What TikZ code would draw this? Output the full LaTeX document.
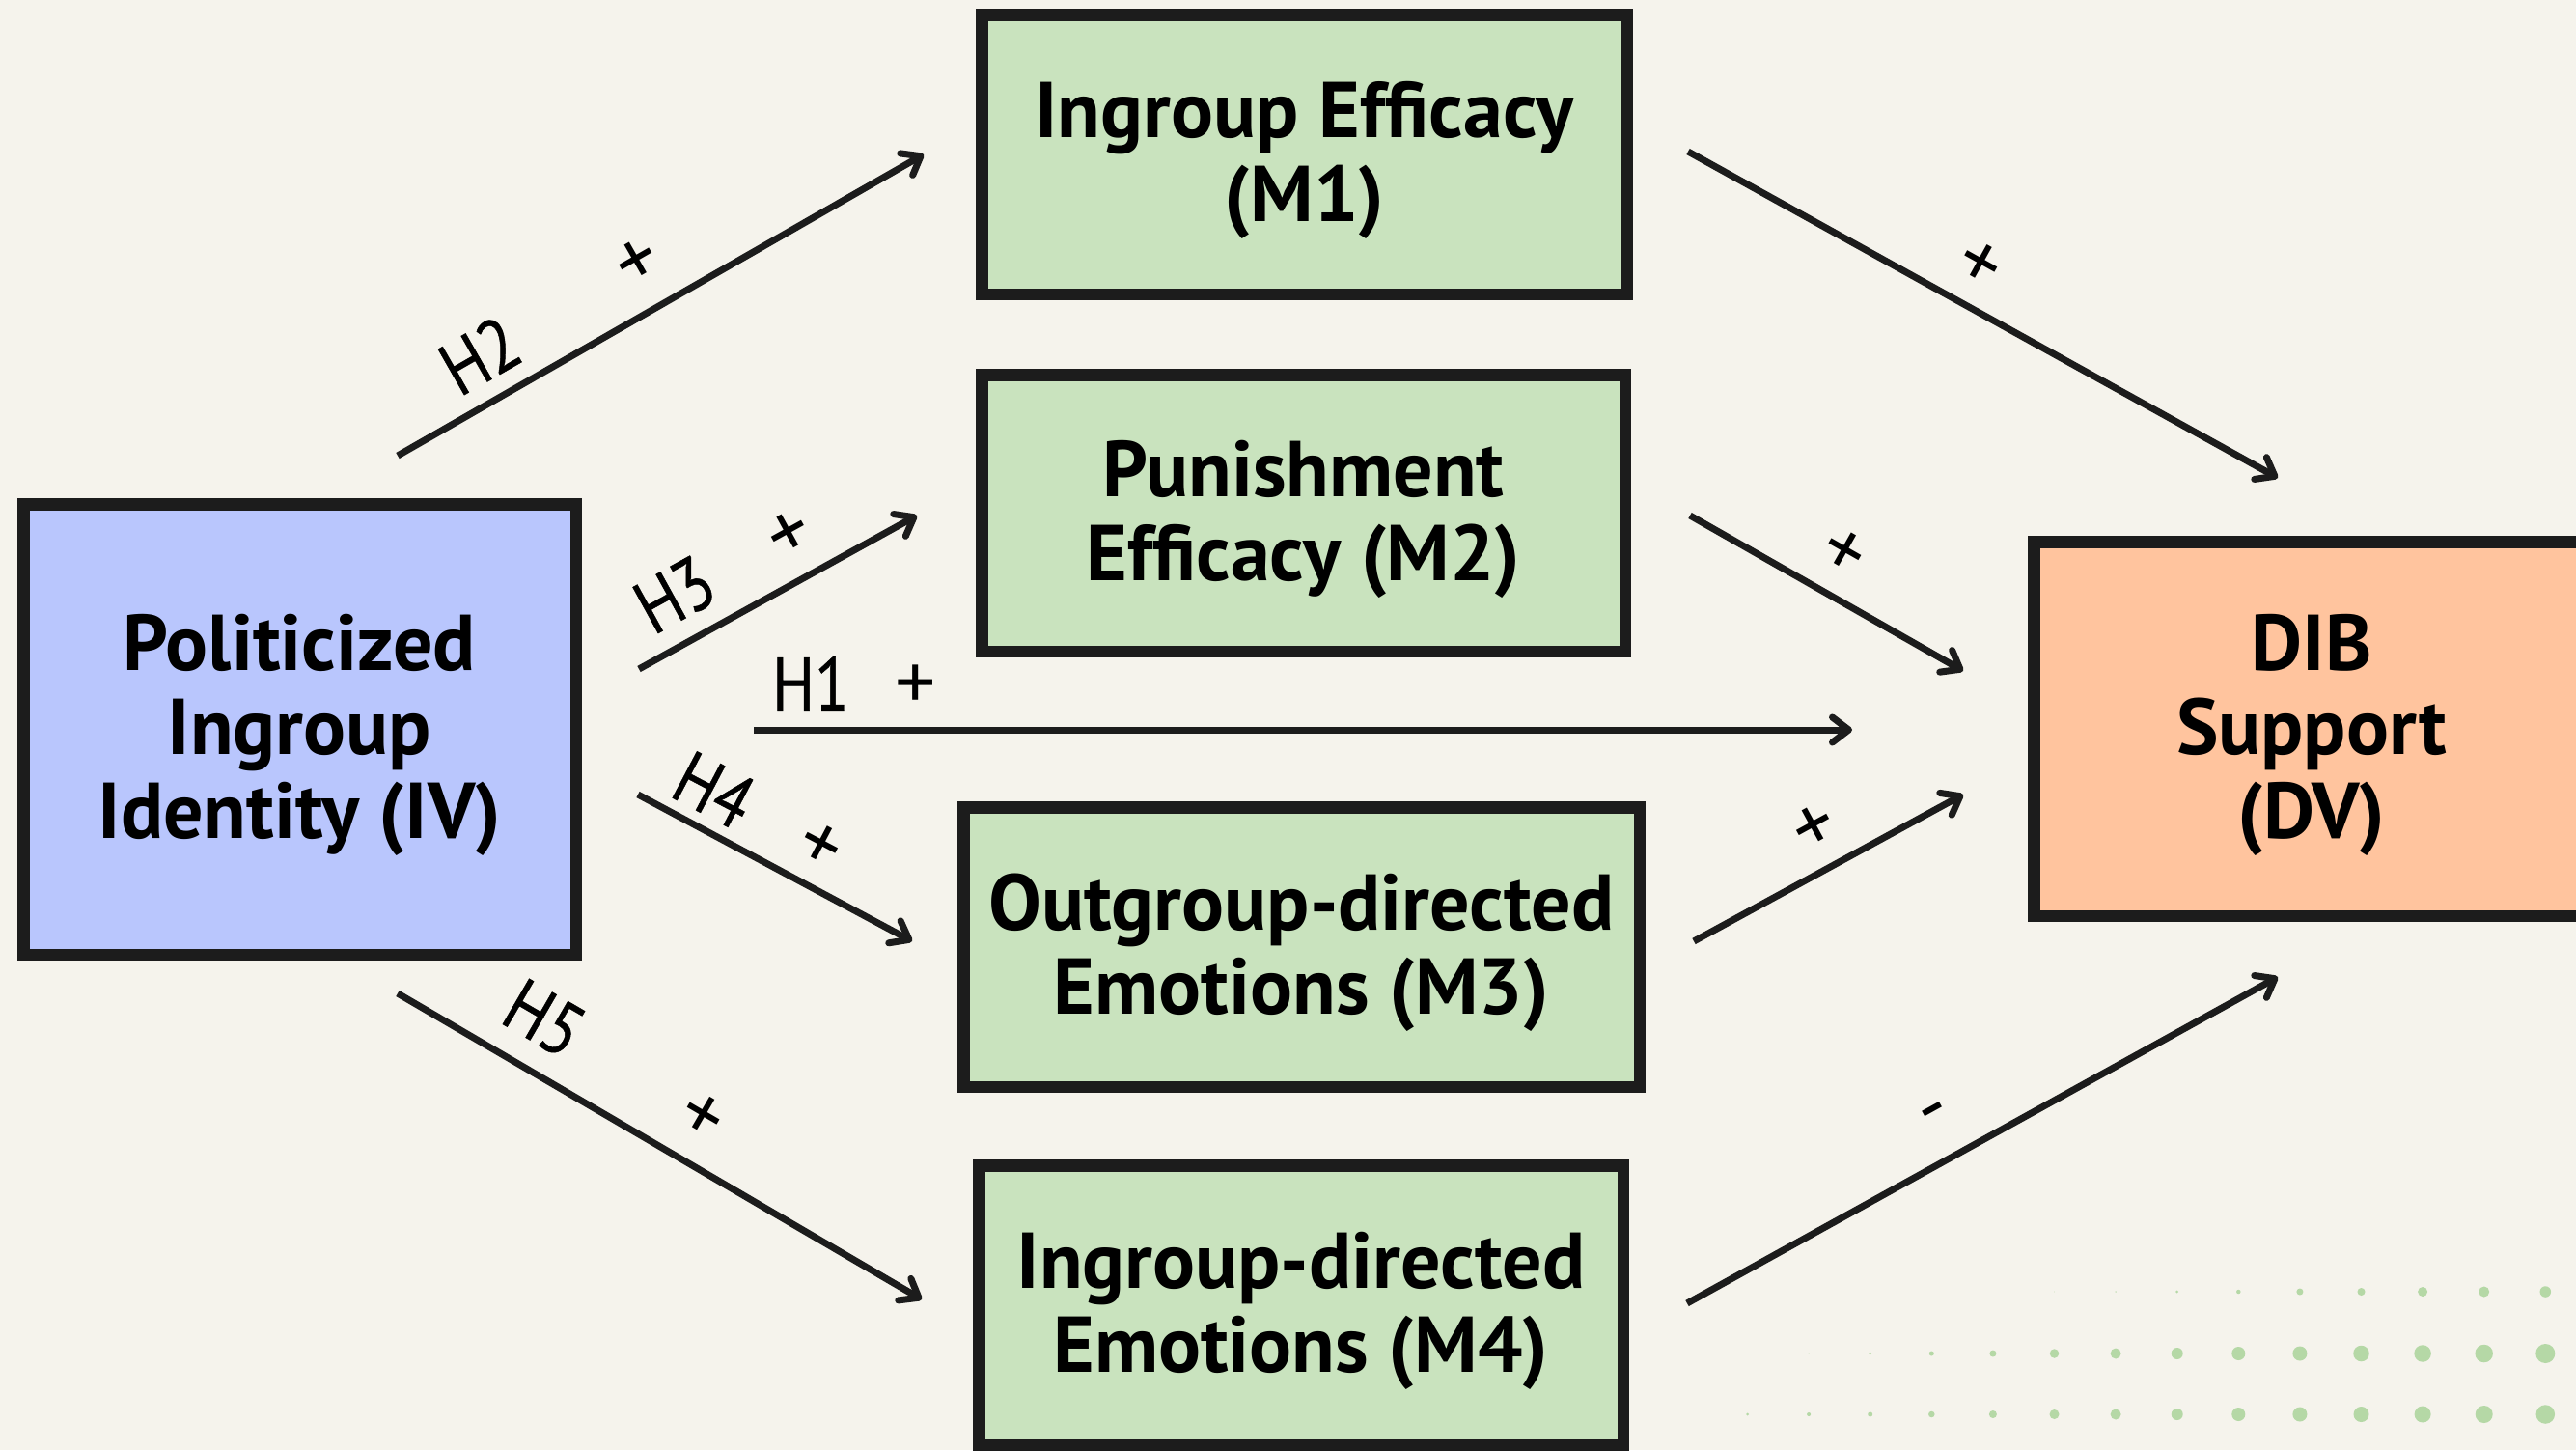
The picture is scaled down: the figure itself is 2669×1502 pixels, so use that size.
\documentclass[tikz,border=0pt]{standalone}
\usepackage{fontspec}
\newfontfamily\boxfont{PT Sans}
\newfontfamily\lblfont[FakeStretch=0.84,FakeBold=0.6]{PT Sans}
\newfontfamily\sgnfont{PT Sans}
\usetikzlibrary{arrows.meta}
\definecolor{bg}{HTML}{F5F3EC}
\definecolor{ink}{HTML}{1C1C1C}
\definecolor{grn}{HTML}{C9E3BE}
\definecolor{blu}{HTML}{B9C6FD}
\definecolor{org}{HTML}{FFC49E}
\definecolor{dotc}{HTML}{B5D8A6}
\begin{document}
\begin{tikzpicture}[x=1pt,y=-1pt,
  vbox/.style={draw=ink, line width=12.5pt, inner sep=0pt, align=center, text depth=6pt,
    font=\boxfont\bfseries\fontsize{82}{87}\selectfont, text=black},
  link/.style={draw=ink, line width=7pt,
    -{Straight Barb[length=17pt,width=26pt,line cap=round,line join=round]}},
  lbl/.style={font=\lblfont\fontsize{78}{84}\selectfont, text=black, inner sep=0pt},
  sgn/.style={font=\sgnfont\fontsize{84}{90}\selectfont, text=black, inner sep=0pt}
]
\fill[bg] (0,0) rectangle (2669,1502);
\useasboundingbox (0,0) rectangle (2669,1502);
\clip (0,0) rectangle (2669,1502);

% dots
\foreach \i/\d in {0/3,1/4,2/5,3/6.5,4/8,5/10,6/11,7/12,8/14,9/15,10/16,11/17,12/18,13/19.5}
  \fill[dotc] ({1810.5+63.6*\i},1465) circle[radius={\d*0.5pt}];
\foreach \i/\d in {1/1,2/3,3/5,4/7,5/9.5,6/11,7/12,8/14,9/15,10/16.5,11/17.5,12/18.5,13/20}
  \fill[dotc] ({1810.5+63.6*\i},1402) circle[radius={\d*0.5pt}];
\foreach \i/\d in {5/0.8,6/1.5,7/3,8/4.5,9/7,10/8,11/10,12/11,13/11.5}
  \fill[dotc] ({1810.5+63.6*\i},1338) circle[radius={\d*0.5pt}];

% boxes
\node[vbox, fill=blu, minimum width=572.5pt, minimum height=466.5pt] (iv) at (310.5,755.5)
  {Politicized\\Ingroup\\Identity (IV)};
\node[vbox, fill=grn, minimum width=668.5pt, minimum height=289.5pt] (m1) at (1351.5,160)
  {Ingroup Efficacy\\(M1)};
\node[vbox, fill=grn, minimum width=666.5pt, minimum height=286.5pt] (m2) at (1350.5,531.5)
  {Punishment\\Efficacy (M2)};
\node[vbox, fill=grn, minimum width=700.5pt, minimum height=289.5pt] (m3) at (1348.5,981)
  {Outgroup-directed\\Emotions (M3)};
\node[vbox, fill=grn, minimum width=667.5pt, minimum height=289.5pt] (m4) at (1348,1352)
  {Ingroup-directed\\Emotions (M4)};
\node[vbox, fill=org, minimum width=575.5pt, minimum height=387.5pt] (dv) at (2395,755)
  {DIB\\Support\\(DV)};

% connector end points
\coordinate (h2a) at (412,472);   \coordinate (h2b) at (957,160);
\coordinate (h3a) at (662,693);   \coordinate (h3b) at (950,534);
\coordinate (h1a) at (781,756);   \coordinate (h1b) at (1919,756);
\coordinate (h4a) at (661,823);   \coordinate (h4b) at (945,975);
\coordinate (h5a) at (412,1029);  \coordinate (h5b) at (955,1346);
\coordinate (d1a) at (1749,157);  \coordinate (d1b) at (2360,495);
\coordinate (d2a) at (1751,534);  \coordinate (d2b) at (2034,695);
\coordinate (d3a) at (1755,975);  \coordinate (d3b) at (2034,823);
\coordinate (d4a) at (1748,1350); \coordinate (d4b) at (2360,1012);

\draw[link] (h2a) -- (h2b);
\draw[link] (h3a) -- (h3b);
\draw[link] (h1a) -- (h1b);
\draw[link] (h4a) -- (h4b);
\draw[link] (h5a) -- (h5b);
\draw[link] (d1a) -- (d1b);
\draw[link] (d2a) -- (d2b);
\draw[link] (d3a) -- (d3b);
\draw[link] (d4a) -- (d4b);

% labels
\node[lbl, rotate=29.8] (lh2) at (497,368) {H2};
\node[sgn, rotate=29.8] (ph2) at (661,273) {+};
\node[lbl, rotate=28.9] (lh3) at (699,616) {H3};
\node[sgn, rotate=28.9] (ph3) at (819,555) {+};
\node[lbl] (lh1) at (840,708) {H1};
\node[sgn] (ph1) at (949,712) {+};
\node[lbl, rotate=-27.8] (lh4) at (740,818) {H4};
\node[sgn, rotate=-27.8] (ph4) at (849,878) {+};
\node[lbl, rotate=-30.2] (lh5) at (564,1055) {H5};
\node[sgn, rotate=-30.2] (ph5) at (727,1158) {+};
\node[sgn, rotate=-29] (pd1) at (2050,275) {+};
\node[sgn, rotate=-29.6] (pd2) at (1909,574) {+};
\node[sgn, rotate=28.6] (pd3) at (1881,859) {+};
\node[sgn, rotate=28.9] (pd4) at (2007,1158) {-};
\end{tikzpicture}
\end{document}
